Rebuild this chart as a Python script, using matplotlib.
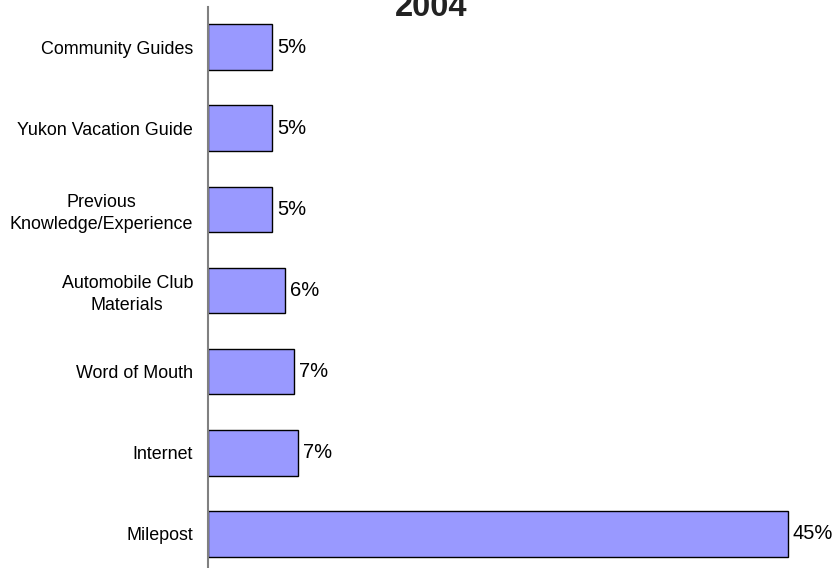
import matplotlib
matplotlib.use("Agg")
import matplotlib.pyplot as plt

categories = ["Milepost", "Internet", "Word of Mouth", "Automobile Club\nMaterials",
              "Previous\nKnowledge/Experience", "Yukon Vacation Guide", "Community Guides"]
values = [45.0, 7.0, 6.7, 6.0, 5.0, 5.0, 5.0]
title = "2004"

plt.rcParams['font.family'] = ['Liberation Sans', 'DejaVu Sans']

W, H = 834, 568
fig = plt.figure(figsize=(W / 100, H / 100), dpi=100)
px_per_unit = 580 / 45.0
xmax = 46.0
left = 208
width = xmax * px_per_unit
# category spacing 81 px, centers: top 47, bottom 534
bottom_px = 534 + 40.5
top_px = 47 - 40.5
ax = fig.add_axes([left / W, 1 - bottom_px / H, width / W, (bottom_px - top_px) / H])

y = list(range(len(categories)))
ax.barh(y, values, height=0.56, color="#9999FF", edgecolor="black", linewidth=1.0)
ax.set_xlim(0, xmax)
ax.set_ylim(-0.5, len(categories) - 0.5)
ax.set_yticks(y)
ax.set_yticklabels(categories, fontsize=12.9, multialignment="center", linespacing=1.35)
ax.tick_params(axis="y", length=0, pad=10.8)
ax.set_xticks([])
for s in ["top", "right", "bottom"]:
    ax.spines[s].set_visible(False)
ax.spines["left"].set_color("#808080")
ax.spines["left"].set_linewidth(1.5)

for yi, v in zip(y, values):
    ax.annotate(f"{round(v):d}%", (v, yi), xytext=(3.5, 0), textcoords="offset points",
                va="center", ha="left", fontsize=14.5)

fig.text(431.5 / W, 1 - 16 / H, title, ha="center", va="baseline", fontsize=23.5, fontweight="bold",
         color="#222222")

fig.savefig("out.png", dpi=100)
